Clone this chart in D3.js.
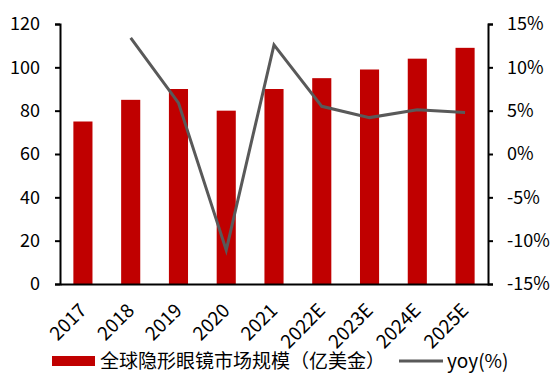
<!DOCTYPE html>
<html>
<head>
<meta charset="utf-8">
<script src="https://cdn.jsdelivr.net/npm/d3@7"></script>
<style>
  body { margin: 0; background: #fff; }
  text { font-family: "Noto Sans CJK SC", "Noto Sans", sans-serif; fill: #000; }
</style>
</head>
<body>
<div id="grafico"></div>
<script>
const years  = ["2017", "2018", "2019", "2020", "2021", "2022E", "2023E", "2024E", "2025E"];
const market = [75, 85, 90, 80, 90, 95, 99, 104, 109];
const yoy    = [null, 13.4, 5.9, -11.1, 12.6, 5.5, 4.2, 5.1, 4.8];
const leftTicks  = [0, 20, 40, 60, 80, 100, 120];
const rightTicks = [-15, -10, -5, 0, 5, 10, 15];
const barName  = "全球隐形眼镜市场规模（亿美金）";
const lineName = "yoy(%)";

const W = 550, H = 378;
const margin = { top: 24, left: 60, bottom: 94, right: 62 };
const width  = W - margin.left - margin.right;
const height = H - margin.top - margin.bottom;

const svg = d3.select("#grafico")
              .append("svg")
              .attr("width", W)
              .attr("height", H)
              .append("g")
              .attr("transform", `translate(${margin.left}, ${margin.top})`);

const xScale = d3.scaleBand()
                 .domain(years)
                 .range([0, width])
                 .paddingInner(0.6)
                 .paddingOuter(0.28);

const yLeft = d3.scaleLinear()
                .domain([0, 120])
                .range([height, 0]);

const yRight = d3.scaleLinear()
                 .domain([-15, 15])
                 .range([height, 0]);

// bars
svg.append("g")
   .selectAll("rect")
   .data(market)
   .join("rect")
   .attr("x", (d, i) => xScale(years[i]))
   .attr("y", d => yLeft(d))
   .attr("width", xScale.bandwidth())
   .attr("height", d => height - yLeft(d))
   .attr("fill", "#C00000");

// yoy line
const line = d3.line()
               .defined(d => d.v !== null)
               .x(d => xScale(d.year) + xScale.bandwidth() / 2)
               .y(d => yRight(d.v));

svg.append("path")
   .datum(years.map((y, i) => ({ year: y, v: yoy[i] })))
   .attr("d", line)
   .attr("fill", "none")
   .attr("stroke", "#595959")
   .attr("stroke-width", 3);

// axes
const leftAxis = svg.append("g")
   .call(d3.axisLeft(yLeft).tickValues(leftTicks).tickSize(5).tickPadding(15).tickSizeOuter(5));
const rightAxis = svg.append("g")
   .attr("transform", `translate(${width}, 0)`)
   .call(d3.axisRight(yRight).tickValues(rightTicks).tickSize(5).tickPadding(14).tickSizeOuter(5)
           .tickFormat(d => d + "%"));
const bottomAxis = svg.append("g")
   .attr("transform", `translate(0, ${height})`)
   .call(d3.axisBottom(xScale).tickSize(0).tickSizeOuter(0));

[leftAxis, rightAxis, bottomAxis].forEach(a => {
  a.select(".domain").attr("stroke", "#000").attr("stroke-width", 2);
  a.selectAll(".tick line").attr("stroke", "#000").attr("stroke-width", 2);
  a.selectAll("text").attr("font-size", "18px").attr("fill", "#000")
   .style("font-family", "'Noto Sans CJK SC', 'Noto Sans', sans-serif");
});

bottomAxis.selectAll("text")
   .attr("font-size", "19px")
   .attr("text-anchor", "end")
   .attr("dy", "0.35em")
   .attr("transform", "translate(0, 23) rotate(-45)")
   .attr("y", 0)
   .attr("x", 0);

// legend
const legend = svg.append("g")
   .attr("transform", `translate(${52 - margin.left}, ${361 - margin.top})`);

legend.append("rect")
   .attr("x", 0).attr("y", -5)
   .attr("width", 43).attr("height", 10)
   .attr("fill", "#C00000");
legend.append("text")
   .attr("x", 48).attr("y", 0)
   .attr("dy", "0.35em")
   .attr("font-size", "19px")
   .text(barName);

legend.append("line")
   .attr("x1", 347).attr("x2", 391)
   .attr("y1", 0).attr("y2", 0)
   .attr("stroke", "#595959")
   .attr("stroke-width", 3);
legend.append("text")
   .attr("x", 395).attr("y", 0)
   .attr("dy", "0.35em")
   .attr("font-size", "19px")
   .text(lineName);
</script>
</body>
</html>
